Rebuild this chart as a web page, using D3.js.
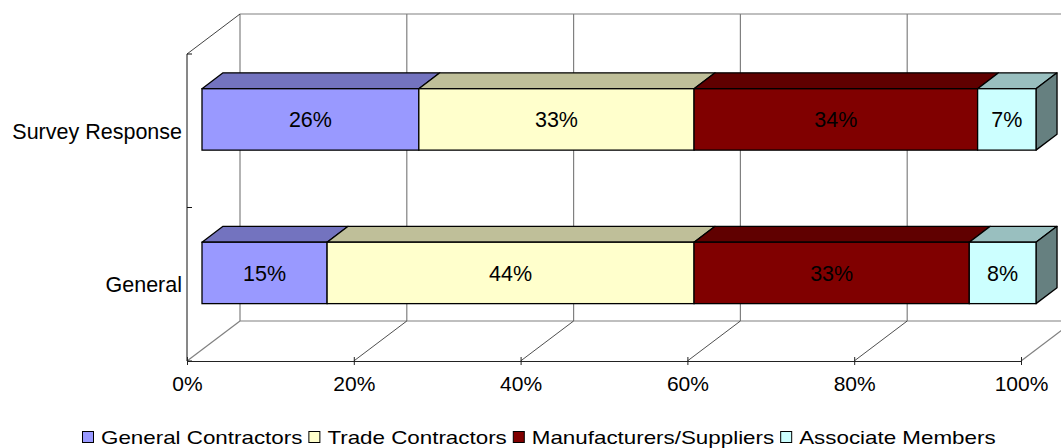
<!DOCTYPE html>
<html>
<head>
<meta charset="utf-8">
<script src="https://cdn.jsdelivr.net/npm/d3@7"></script>
<style>
  html, body { margin: 0; padding: 0; background: #fff; }
  svg { display: block; font-family: "Liberation Sans", Arial, sans-serif; }
</style>
</head>
<body>
<svg id="chart" width="1061" height="448"></svg>
<script>
// Membership breakdown, stacked 100% horizontal bars
const categories = ["Survey Response", "General"];
const seriesNames = ["General Contractors", "Trade Contractors", "Manufacturers/Suppliers", "Associate Members"];
const surveyResponseValues = [26, 33, 34, 7];
const generalValues = [15, 44, 33, 8];
const seriesColors = ["#9999FF", "#FFFFCC", "#800000", "#CCFFFF"];
const tickValues = [0, 20, 40, 60, 80, 100];

const valuesByCategory = {
  "Survey Response": surveyResponseValues,
  "General": generalValues
};

const svg = d3.select("#chart");

// front plane of the 3D box and the depth vector
const x = d3.scaleLinear().domain([0, 100]).range([187, 1021]);
const y = d3.scaleBand().domain(categories).range([54, 361]).padding(0);
const depth = { dx: 53, dy: -40 };
const barFront = 0.283, barBack = 0.68;   // bar slab position within the depth
const barFill = 0.4;                      // bar thickness as share of the band
const floorY = y.range()[1];
const topY = y.range()[0];
const wallTop = topY + depth.dy;

const shade = (c, k) => { const r = d3.rgb(c); return d3.rgb(r.r * k, r.g * k, r.b * k).formatHex(); };

const grid = svg.append("g");

// back wall: top edge, floor back edge, vertical gridlines
grid.append("line")
  .attr("x1", x(0) + depth.dx).attr("x2", x(100) + depth.dx)
  .attr("y1", wallTop).attr("y2", wallTop)
  .attr("stroke", "#808080").attr("stroke-width", 1.2);
grid.append("line")
  .attr("x1", x(0) + depth.dx).attr("x2", x(100) + depth.dx)
  .attr("y1", floorY + depth.dy).attr("y2", floorY + depth.dy)
  .attr("stroke", "#808080").attr("stroke-width", 1.2);
grid.selectAll(".vgrid").data(tickValues).join("line")
  .attr("x1", d => x(d) + depth.dx).attr("x2", d => x(d) + depth.dx)
  .attr("y1", wallTop).attr("y2", floorY + depth.dy)
  .attr("stroke", "#808080").attr("stroke-width", 1.2);

// floor lines from front ticks to the back wall
grid.selectAll(".floor").data(tickValues).join("line")
  .attr("x1", d => x(d)).attr("y1", floorY)
  .attr("x2", d => x(d) + depth.dx).attr("y2", floorY + depth.dy)
  .attr("stroke", d => (d === 0 || d === 100) ? "#808080" : "#222")
  .attr("stroke-width", d => (d === 0 || d === 100) ? 1.2 : 0.8);

// left wall: front edge and top diagonal
grid.append("line")
  .attr("x1", x(0)).attr("x2", x(0))
  .attr("y1", topY).attr("y2", floorY)
  .attr("stroke", "#111").attr("stroke-width", 1);
grid.append("line")
  .attr("x1", x(0)).attr("y1", topY)
  .attr("x2", x(0) + depth.dx).attr("y2", wallTop)
  .attr("stroke", "#111").attr("stroke-width", 0.8);

// category boundary ticks on the vertical axis
const bounds = [topY].concat(categories.map(c => y(c) + y.bandwidth()));
grid.selectAll(".ytick").data(bounds).join("line")
  .attr("x1", x(0)).attr("x2", x(0) + 5)
  .attr("y1", d => d).attr("y2", d => d)
  .attr("stroke", "#111").attr("stroke-width", 1);

// category labels
svg.append("g").selectAll("text").data(categories).join("text")
  .attr("x", x(0) - 5)
  .attr("y", d => y(d) + y.bandwidth() / 2)
  .attr("dy", "0.37em")
  .attr("text-anchor", "end")
  .attr("font-size", "21.5px")
  .attr("fill", "#000")
  .text(d => d);

// bottom axis
const xAxis = d3.axisBottom(x)
  .tickValues(tickValues)
  .tickFormat(d => d + "%")
  .tickSizeInner(4).tickSizeOuter(0)
  .tickPadding(11);
const axisG = svg.append("g").attr("transform", `translate(0,${floorY})`).call(xAxis);
axisG.select(".domain").attr("stroke", "#222").attr("stroke-width", 1);
axisG.selectAll(".tick line").attr("y1", -4).attr("stroke", "#222");
axisG.selectAll(".tick text")
  .attr("font-size", "21px")
  .attr("font-family", "'Liberation Sans', Arial, sans-serif")
  .attr("fill", "#000");

// stacked 3D bars
const bars = svg.append("g");
const offX = barFront * depth.dx, offY = barFront * depth.dy;
const slabX = (barBack - barFront) * depth.dx, slabY = (barBack - barFront) * depth.dy;
const barH = y.bandwidth() * barFill;

categories.forEach(cat => {
  const vals = valuesByCategory[cat];
  let cum = 0;
  const segs = vals.map((v, i) => {
    const s = { i, v, x0: x(cum) + offX, x1: x(cum + v) + offX };
    cum += v;
    return s;
  });
  const yTop = y(cat) + (y.bandwidth() - barH) / 2 + offY;
  const g = bars.append("g");

  // top faces
  g.selectAll(".top").data(segs).join("path")
    .attr("d", s => `M${s.x0},${yTop}L${s.x1},${yTop}L${s.x1 + slabX},${yTop + slabY}L${s.x0 + slabX},${yTop + slabY}Z`)
    .attr("fill", s => shade(seriesColors[s.i], 0.75))
    .attr("stroke", "#000").attr("stroke-width", 1.3).attr("stroke-linejoin", "round");

  // right side face of the last segment
  const last = segs[segs.length - 1];
  g.append("path")
    .attr("d", `M${last.x1},${yTop}L${last.x1 + slabX},${yTop + slabY}L${last.x1 + slabX},${yTop + slabY + barH}L${last.x1},${yTop + barH}Z`)
    .attr("fill", shade(seriesColors[last.i], 0.5))
    .attr("stroke", "#000").attr("stroke-width", 1.3).attr("stroke-linejoin", "round");

  // front faces
  g.selectAll(".front").data(segs).join("rect")
    .attr("x", s => s.x0).attr("y", yTop)
    .attr("width", s => s.x1 - s.x0).attr("height", barH)
    .attr("fill", s => seriesColors[s.i])
    .attr("stroke", "#000").attr("stroke-width", 1.3);

  // value labels
  g.selectAll(".lbl").data(segs).join("text")
    .attr("x", s => (s.x0 + s.x1) / 2)
    .attr("y", yTop + barH / 2)
    .attr("dy", "0.36em")
    .attr("text-anchor", "middle")
    .attr("font-size", "21.5px")
    .attr("fill", "#000")
    .text(s => s.v + "%");
});

// legend (text set slightly wide, as in the original export)
const legend = svg.append("g");
const stretch = 1.21;
let lx = 82;
seriesNames.forEach((name, i) => {
  legend.append("rect")
    .attr("x", lx + 0.5).attr("y", 431.5)
    .attr("width", 11).attr("height", 11)
    .attr("fill", seriesColors[i])
    .attr("stroke", "#000").attr("stroke-width", 1);
  const t = legend.append("text")
    .attr("transform", `translate(${lx + 19},443.5) scale(${stretch},1)`)
    .attr("font-size", "18.5px")
    .attr("fill", "#000")
    .text(name);
  lx += 19 + t.node().getComputedTextLength() * stretch + 6;
});
</script>
</body>
</html>
